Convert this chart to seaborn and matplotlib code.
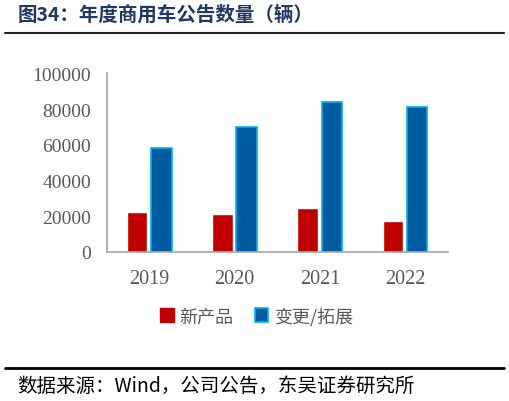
import matplotlib
matplotlib.use('Agg')
import matplotlib.pyplot as plt
import seaborn as sns
import pandas as pd
from matplotlib.lines import Line2D
from matplotlib.patches import Patch

# datos
anios = ['2019', '2020', '2021', '2022']
nuevos = [22200, 21100, 24300, 17200]
cambios = [58100, 69700, 83900, 81100]
series = ['新产品', '变更/拓展']

df = pd.DataFrame({
    'anio': anios * 2,
    'valor': nuevos + cambios,
    'serie': [series[0]] * 4 + [series[1]] * 4,
})

sns.set_style('white')
plt.rcParams['font.family'] = ['Noto Sans CJK SC', 'DejaVu Sans']

rojo = '#C00000'
azul = '#005A9E'
borde_azul = '#00B0F0'
gris = '#A6A6A6'

fig = plt.figure(figsize=(5.1, 4.02), dpi=100)
ax = fig.add_axes([0.209, 0.371, 0.669, 0.444])

sns.barplot(data=df, x='anio', y='valor', hue='serie', palette=[rojo, azul],
            width=0.57, gap=0.16, ax=ax, legend=False, saturation=1)

# borde azul claro en las barras de cambios
for p in ax.patches[4:8]:
    p.set_edgecolor(borde_azul)
    p.set_linewidth(1.2)

ax.set_ylim(0, 100000)
ax.set_xlim(-0.5, 3.5)
ax.set_yticks(range(0, 100001, 20000))
ax.set_xlabel('')
ax.set_ylabel('')

for s in ['top', 'right']:
    ax.spines[s].set_visible(False)
for s in ['left', 'bottom']:
    ax.spines[s].set_color(gris)
    ax.spines[s].set_linewidth(1.2)

ax.set_xticks([-0.5, 0.5, 1.5, 2.5, 3.5], minor=True)
ax.tick_params(axis='x', which='major', length=0, pad=12)
ax.tick_params(axis='x', which='minor', length=5, width=1.2, color=gris, direction='out')
ax.tick_params(axis='y', length=5, width=1.2, color=gris, direction='out', pad=6)

for lab in ax.get_yticklabels():
    lab.set_fontfamily('Liberation Serif')
    lab.set_fontsize(14)
    lab.set_color('#595959')
for lab in ax.get_xticklabels():
    lab.set_fontfamily('Liberation Serif')
    lab.set_fontsize(14.5)
    lab.set_color('#595959')

# leyenda
handles = [Patch(facecolor=rojo, edgecolor=rojo),
           Patch(facecolor=azul, edgecolor=borde_azul, linewidth=1.2)]
leg = fig.legend(handles, series, loc='center', bbox_to_anchor=(0.503, 0.212), ncol=2,
                 frameon=False, handlelength=0.75, handleheight=0.75, handletextpad=0.3,
                 columnspacing=1.2, prop={'family': ['Noto Sans CJK SC'], 'size': 13})
for t in leg.get_texts():
    t.set_color('#595959')

# título y fuente
fig.text(0.035, 0.962, '图34：年度商用车公告数量（辆）', fontsize=14, fontweight='bold',
         color='#1F3864', va='center', ha='left')
fig.add_artist(Line2D([0.01, 0.988], [0.915, 0.915], color='#222222', linewidth=1.5))
fig.add_artist(Line2D([0.01, 0.988], [0.083, 0.083], color='black', linewidth=2))
fig.text(0.033, 0.04, '数据来源：Wind，公司公告，东吴证券研究所', fontsize=14,
         color='black', va='center', ha='left')

fig.savefig('out.png', dpi=100)
